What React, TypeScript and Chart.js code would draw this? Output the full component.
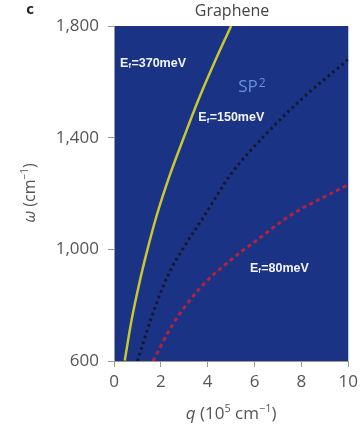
import React, { useEffect, useRef } from 'react';
import { Chart, registerables } from 'chart.js';

Chart.register(...registerables);

// Ef = 370 meV (yellow solid)
const Q_370 = [0.46, 0.74, 1.1, 1.4, 1.8, 2.4, 3.0, 3.6, 4.3, 5.0];
const W_370 = [602, 742, 886, 990, 1115, 1270, 1405, 1535, 1672, 1800];
// Ef = 150 meV (black dotted)
const Q_150 = [1.0, 1.74, 2.38, 3.0, 3.8, 5.0, 6.4, 8.1, 10];
const W_150 = [600, 790, 920, 1010, 1113, 1270, 1405, 1545, 1680];
// Ef = 80 meV (red dashed)
const Q_80 = [1.67, 2.5, 3.66, 5.0, 6.1, 7.5, 10];
const W_80 = [600, 730, 860, 963, 1033, 1120, 1232];

const X_TICKS = [0, 2, 4, 6, 8, 10];
const Y_TICKS = [600, 1000, 1400, 1800];

const LABEL_VALUES = ['370meV', '150meV', '80meV'];

const FONT = '"Open Sans", "DejaVu Sans", sans-serif';
const LBL_FONT = '"Liberation Sans", Arial, sans-serif';

function pts(q: number[], w: number[]) {
  return q.map((x, i) => ({ x, y: w[i] }));
}

function drawEf(ctx: CanvasRenderingContext2D, x: number, y: number, value: string) {
  ctx.fillStyle = '#f2f4ff';
  ctx.textBaseline = 'middle';
  ctx.textAlign = 'left';
  ctx.font = `bold 12.5px ${LBL_FONT}`;
  ctx.fillText('E', x, y);
  let w = ctx.measureText('E').width;
  ctx.font = `bold 7.5px ${LBL_FONT}`;
  ctx.fillText('f', x + w, y + 3);
  w += ctx.measureText('f').width + 0.5;
  ctx.font = `bold 12.5px ${LBL_FONT}`;
  ctx.fillText('=' + value, x + w, y);
}

function drawPieces(
  ctx: CanvasRenderingContext2D,
  pieces: { t: string; f: string; dy?: number }[],
  cx: number,
  cy: number
) {
  let total = 0;
  for (const p of pieces) {
    ctx.font = p.f;
    total += ctx.measureText(p.t).width;
  }
  let x = cx - total / 2;
  ctx.textAlign = 'left';
  ctx.textBaseline = 'middle';
  for (const p of pieces) {
    ctx.font = p.f;
    ctx.fillText(p.t, x, cy + (p.dy || 0));
    x += ctx.measureText(p.t).width;
  }
}

const decor = {
  id: 'decor',
  beforeDraw(chart: any) {
    const { ctx, chartArea: a } = chart;
    ctx.save();
    ctx.fillStyle = '#ffffff';
    ctx.fillRect(0, 0, chart.width, chart.height);
    ctx.fillStyle = '#1b3385';
    ctx.fillRect(a.left, a.top, a.right - a.left, a.bottom - a.top);
    ctx.restore();
  },
  afterDatasetsDraw(chart: any) {
    const { ctx, scales } = chart;
    const xs = scales.x;
    const ys = scales.y;
    ctx.save();
    drawEf(ctx, xs.getPixelForValue(0.26), ys.getPixelForValue(1667), LABEL_VALUES[0]);
    drawEf(ctx, xs.getPixelForValue(3.6), ys.getPixelForValue(1472), LABEL_VALUES[1]);
    drawEf(ctx, xs.getPixelForValue(5.8), ys.getPixelForValue(932), LABEL_VALUES[2]);
    // SP2
    ctx.fillStyle = '#6592da';
    const sx = xs.getPixelForValue(5.3);
    const sy = ys.getPixelForValue(1580);
    ctx.textBaseline = 'middle';
    ctx.textAlign = 'left';
    ctx.font = `17px ${FONT}`;
    ctx.fillText('SP', sx, sy);
    const w = ctx.measureText('SP').width;
    ctx.font = `12px ${FONT}`;
    ctx.fillText('2', sx + w + 1, sy - 4);
    ctx.restore();
  },
  afterDraw(chart: any) {
    const { ctx, chartArea: a } = chart;
    ctx.save();
    ctx.fillStyle = '#444';
    ctx.textAlign = 'center';
    ctx.textBaseline = 'middle';
    ctx.font = `16px ${FONT}`;
    ctx.fillText('Graphene', 232, 11);
    ctx.fillStyle = '#222';
    ctx.font = `bold 15px ${FONT}`;
    ctx.fillText('c', 30, 10);

    ctx.fillStyle = '#555';
    // x title
    drawPieces(
      ctx,
      [
        { t: 'q', f: `italic 17px ${FONT}` },
        { t: ' (10', f: `17px ${FONT}` },
        { t: '5', f: `11px ${FONT}`, dy: -5 },
        { t: ' cm', f: `17px ${FONT}` },
        { t: '\u22121', f: `11px ${FONT}`, dy: -5 },
        { t: ')', f: `17px ${FONT}` },
      ],
      (a.left + a.right) / 2,
      414
    );
    // y title
    ctx.translate(30, 193);
    ctx.rotate(-Math.PI / 2);
    drawPieces(
      ctx,
      [
        { t: '\u03c9', f: `italic 16px ${FONT}` },
        { t: ' (cm', f: `16px ${FONT}` },
        { t: '\u22121', f: `10px ${FONT}`, dy: -5 },
        { t: ')', f: `16px ${FONT}` },
      ],
      0,
      0
    );
    ctx.restore();
  },
};

export default function App() {
  const ref = useRef<HTMLCanvasElement>(null);
  useEffect(() => {
    if (!ref.current) return;
    const chart = new Chart(ref.current, {
      type: 'line',
      data: {
        datasets: [
          {
            label: 'Ef=370meV',
            data: pts(Q_370, W_370),
            borderColor: '#c9c830',
            borderWidth: 2.5,
            pointRadius: 0,
            cubicInterpolationMode: 'monotone',
          },
          {
            label: 'Ef=150meV',
            data: pts(Q_150, W_150),
            borderColor: '#15172a',
            borderWidth: 3,
            borderDash: [2.5, 3.5],
            pointRadius: 0,
            cubicInterpolationMode: 'monotone',
          },
          {
            label: 'Ef=80meV',
            data: pts(Q_80, W_80),
            borderColor: '#b3213f',
            borderWidth: 3,
            borderDash: [4, 3.5],
            pointRadius: 0,
            cubicInterpolationMode: 'monotone',
          },
        ],
      },
      options: {
        responsive: false,
        animation: false,
        devicePixelRatio: 1,
        layout: { padding: { left: 0, right: 12, top: 26, bottom: 0 } },
        plugins: { legend: { display: false }, tooltip: { enabled: false }, title: { display: false } },
        scales: {
          x: {
            type: 'linear',
            min: 0,
            max: 10,
            afterFit: (s: any) => {
              s.height = 71;
            },
            afterBuildTicks: (s: any) => {
              s.ticks = X_TICKS.map((v) => ({ value: v }));
            },
            ticks: { color: '#555', font: { family: FONT, size: 17 }, padding: 5 },
            grid: { drawOnChartArea: false, drawTicks: true, tickLength: 6, color: '#999' },
            border: { display: true, color: '#999' },
          },
          y: {
            type: 'linear',
            min: 600,
            max: 1800,
            afterFit: (s: any) => {
              s.width = 114;
            },
            afterBuildTicks: (s: any) => {
              s.ticks = Y_TICKS.map((v) => ({ value: v }));
            },
            ticks: {
              color: '#555',
              font: { family: FONT, size: 17 },
              padding: 9,
              callback: (v: any) => Number(v).toLocaleString('en-US'),
            },
            grid: { drawOnChartArea: false, drawTicks: true, tickLength: 6, color: '#999' },
            border: { display: true, color: '#999' },
          },
        },
      },
      plugins: [decor],
    });
    return () => chart.destroy();
  }, []);
  return (
    <div style={{ position: 'fixed', left: 0, top: 0, width: 363, height: 432 }}>
      <canvas ref={ref} width={363} height={432} style={{ display: 'block' }} />
    </div>
  );
}
